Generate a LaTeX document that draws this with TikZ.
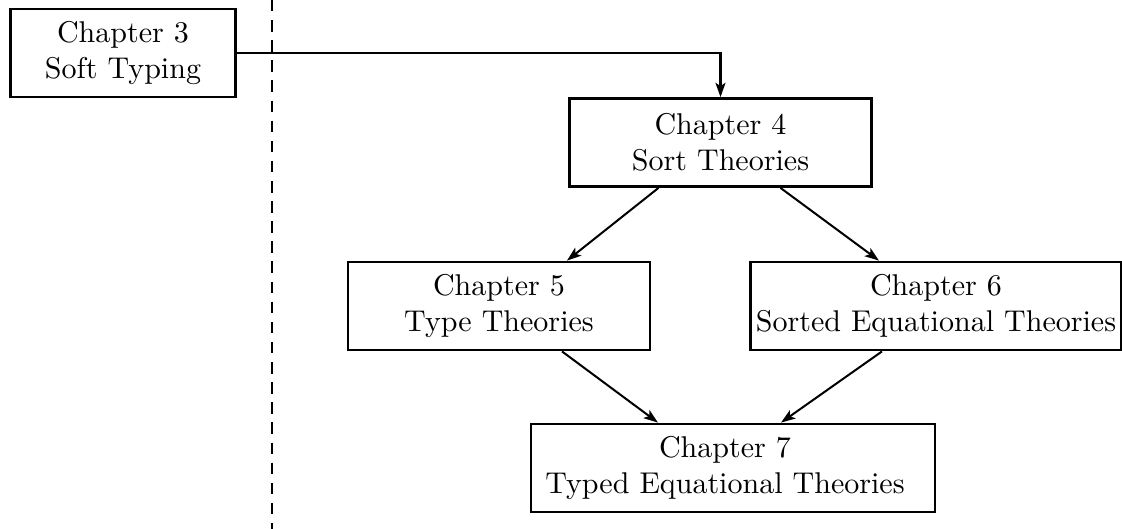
\documentclass[tikz,border=0pt]{standalone}
\usepackage{tikz}
\usetikzlibrary{arrows.meta,calc}

\begin{document}
\begin{tikzpicture}[x=0.348pt,y=-0.348pt,
  chap/.style={draw,line width=1pt,align=center,minimum height=30.6pt,inner sep=2pt,
    font=\fontsize{10.45}{12.5}\selectfont},
  arr/.style={line width=0.7pt,-{Stealth[length=5pt,width=3.5pt,inset=1.2pt]}}]
  \useasboundingbox (0,0) rectangle (1122,529);
  \draw[line width=0.7pt,dash pattern=on 4pt off 3pt] (272,0) -- (272,529);
  \node[chap,minimum width=78.6pt] (ch3) at (123,53) {Chapter 3\\ Soft Typing};
  \node[chap,minimum width=105.4pt] (ch4) at (720.5,142.5) {Chapter 4\\ Sort Theories};
  \node[chap,minimum width=105.1pt] (ch5) at (499,306) {Chapter 5\\ Type Theories};
  \node[chap,minimum width=128.1pt] (ch6) at (936,306) {Chapter 6\\ Sorted Equational Theories};
  \node[chap,minimum width=140.6pt] (ch7) at (733,468)
    {Chapter 7\hspace*{5.6pt}\\ Typed Equational Theories\hspace*{5.6pt}};
  \draw[arr] (ch3.east) -| (ch4.north);
  \draw[arr] ($(ch4.south)+(-62,0)$) -- ($(ch5.north)+(68,0)$);
  \draw[arr] ($(ch4.south)+(60,0)$) -- ($(ch6.north)+(-57,0)$);
  \draw[arr] ($(ch5.south)+(63,0)$) -- ($(ch7.north)+(-75,0)$);
  \draw[arr] ($(ch6.south)+(-54,0)$) -- ($(ch7.north)+(48,0)$);
\end{tikzpicture}
\end{document}
